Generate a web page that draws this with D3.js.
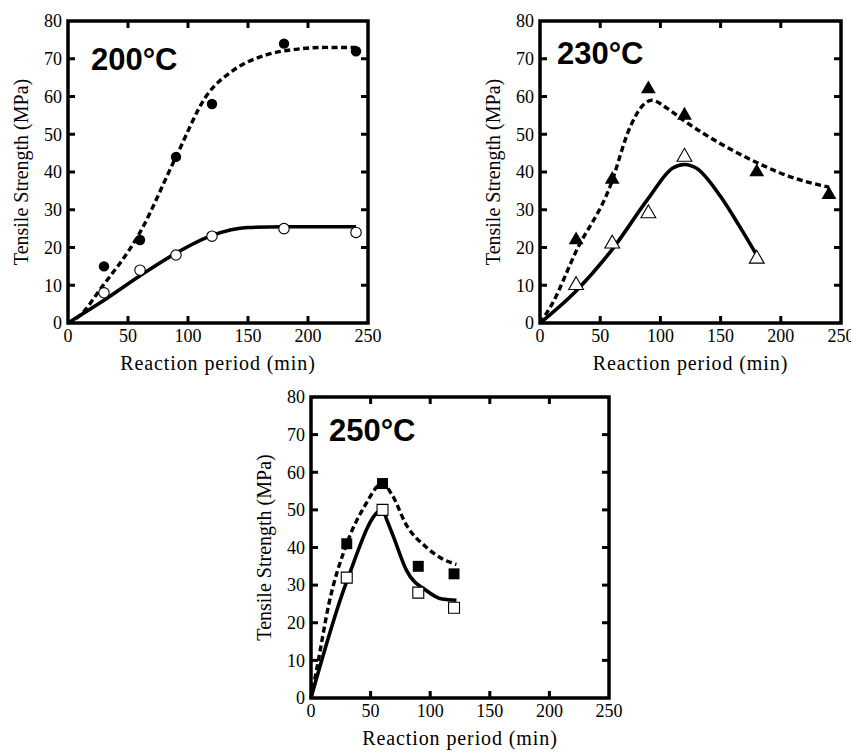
<!DOCTYPE html>
<html>
<head>
<meta charset="UTF-8">
<title>Tensile strength vs reaction period</title>
<script src="https://cdn.jsdelivr.net/npm/d3@7"></script>
<style>
  body { margin: 0; background: #fff; }
  .tick-label { font-family: "Liberation Serif", "Times New Roman", serif; font-size: 18px; }
  .axis-title { font-family: "Liberation Serif", "Times New Roman", serif; font-size: 20px; }
  .temp { font-family: "Liberation Sans", Arial, sans-serif; font-weight: bold; font-size: 31px; }
</style>
</head>
<body>
<script>
// axis ticks shared by all three panels
var xTicks = [0, 50, 100, 150, 200, 250];
var yTicks = [0, 10, 20, 30, 40, 50, 60, 70, 80];

// 200 C
var periods200 = [30, 60, 90, 120, 180, 240];
var filled200 = [15, 22, 44, 58, 74, 72];
var open200 = [8, 14, 18, 23, 25, 24];
var dashFit200 = [[0, 0], [10, 2], [27, 9], [60, 24], [90, 44], [115, 60], [138, 67], [165, 71], [190, 72.5], [215, 73], [240, 73]];
var solidFit200 = [[0, 0], [30, 6], [60, 12.5], [90, 18.5], [120, 23.2], [150, 25.3], [180, 25.5], [240, 25.5]];

// 230 C
var periods230 = [30, 60, 90, 120, 180, 240];
var filled230 = [22, 38, 62, 55, 40, 34];
var periods230open = [30, 60, 90, 120, 180];
var open230 = [10, 21, 29, 44, 17];
var dashFit230 = [[0, 0], [10, 5], [30, 19], [58, 36], [75, 52], [85, 57.5], [93, 59], [105, 57], [120, 53.5], [150, 47.5], [180, 42.5], [210, 38.5], [240, 36]];
var solidFit230 = [[0, 0], [30, 8.5], [60, 19.5], [90, 33], [110, 41], [120, 42], [130, 41], [150, 33.5], [165, 26], [180, 18]];

// 250 C
var periods250 = [30, 60, 90, 120];
var filled250 = [41, 57, 35, 33];
var open250 = [32, 50, 28, 24];
var dashFit250 = [[0, 0], [5, 8], [15, 25], [30, 41], [45, 51], [60, 57], [68, 54], [80, 46], [97, 40], [110, 37], [122, 35.5]];
var solidFit250 = [[0, 0], [30, 31], [60, 50], [64, 47], [69, 43], [80, 34], [97, 28.5], [110, 26.3], [122, 26]];

var svg = d3.select("body").append("svg")
  .attr("width", 851)
  .attr("height", 754);

//one panel = framed box with ticks on all sides
function drawPanel(p) {
  var x = d3.scaleLinear().domain([0, 250]).range([p.left, p.right]);
  var y = d3.scaleLinear().domain([0, 80]).range([p.bottom, p.top]);
  var g = svg.append("g");

  var line = d3.line()
    .x(function(d) { return x(d[0]); })
    .y(function(d) { return y(d[1]); })
    .curve(d3.curveMonotoneX);

  g.append("path").datum(p.dash)
    .attr("d", line)
    .attr("fill", "none").attr("stroke", "#000")
    .attr("stroke-width", 3.4).attr("stroke-dasharray", "6,3.5");
  g.append("path").datum(p.solid)
    .attr("d", line)
    .attr("fill", "none").attr("stroke", "#000")
    .attr("stroke-width", 3.6);

  // inner ticks, bottom/top and left/right
  var inner = xTicks.slice(1, -1);
  inner.forEach(function(t) {
    g.append("line").attr("x1", x(t)).attr("x2", x(t)).attr("y1", p.bottom).attr("y2", p.bottom - 7);
    g.append("line").attr("x1", x(t)).attr("x2", x(t)).attr("y1", p.top).attr("y2", p.top + 7);
  });
  yTicks.slice(1, -1).forEach(function(t) {
    g.append("line").attr("x1", p.left).attr("x2", p.left + 7).attr("y1", y(t)).attr("y2", y(t));
    g.append("line").attr("x1", p.right).attr("x2", p.right - 7).attr("y1", y(t)).attr("y2", y(t));
  });
  g.selectAll("line").attr("stroke", "#000").attr("stroke-width", 3);

  g.append("rect")
    .attr("x", p.left).attr("y", p.top)
    .attr("width", p.right - p.left).attr("height", p.bottom - p.top)
    .attr("fill", "none").attr("stroke", "#000").attr("stroke-width", 3.5);

  // markers on top of the lines
  var sym = d3.symbol().type(p.shape).size(p.size);
  g.selectAll(".open").data(d3.zip(p.openX, p.open)).enter()
    .append("path").attr("class", "open")
    .attr("d", sym)
    .attr("transform", function(d) { return "translate(" + x(d[0]) + "," + y(d[1]) + ")"; })
    .attr("fill", "#fff").attr("stroke", "#000").attr("stroke-width", 1.1);
  g.selectAll(".filled").data(d3.zip(p.filledX, p.filled)).enter()
    .append("path").attr("class", "filled")
    .attr("d", sym)
    .attr("transform", function(d) { return "translate(" + x(d[0]) + "," + y(d[1]) + ")"; })
    .attr("fill", "#000");

  // tick labels
  g.selectAll(".xl").data(xTicks).enter().append("text")
    .attr("class", "tick-label")
    .attr("x", function(d) { return x(d); })
    .attr("y", p.bottom + 19)
    .attr("text-anchor", "middle")
    .text(function(d) { return d; });
  g.selectAll(".yl").data(yTicks).enter().append("text")
    .attr("class", "tick-label")
    .attr("x", p.left - 6)
    .attr("y", function(d) { return y(d); })
    .attr("dy", "0.35em")
    .attr("text-anchor", "end")
    .text(function(d) { return d; });

  g.append("text").attr("class", "axis-title")
    .attr("x", (p.left + p.right) / 2).attr("y", p.bottom + 47)
    .attr("text-anchor", "middle")
    .attr("letter-spacing", "0.9px")
    .text("Reaction period (min)");
  g.append("text").attr("class", "axis-title")
    .attr("transform", "translate(" + (p.left - 40) + "," + ((p.top + p.bottom) / 2) + ") rotate(-90)")
    .attr("text-anchor", "middle")
    .text("Tensile Strength (MPa)");

  g.append("text").attr("class", "temp")
    .attr("x", p.left + p.labelDx).attr("y", p.top + p.labelDy)
    .text(p.label);
}

drawPanel({
  left: 68, right: 368, top: 21, bottom: 323,
  label: "200°C", labelDx: 23, labelDy: 49,
  shape: d3.symbolCircle, size: 85,
  filledX: periods200, filled: filled200,
  openX: periods200, open: open200,
  dash: dashFit200, solid: solidFit200
});
drawPanel({
  left: 540, right: 841, top: 21, bottom: 323,
  label: "230°C", labelDx: 17, labelDy: 43,
  shape: d3.symbolTriangle, size: 95,
  filledX: periods230, filled: filled230,
  openX: periods230open, open: open230,
  dash: dashFit230, solid: solidFit230
});
drawPanel({
  left: 311, right: 609, top: 397, bottom: 698,
  label: "250°C", labelDx: 18, labelDy: 44,
  shape: d3.symbolSquare, size: 120,
  filledX: periods250, filled: filled250,
  openX: periods250, open: open250,
  dash: dashFit250, solid: solidFit250
});
</script>
</body>
</html>
